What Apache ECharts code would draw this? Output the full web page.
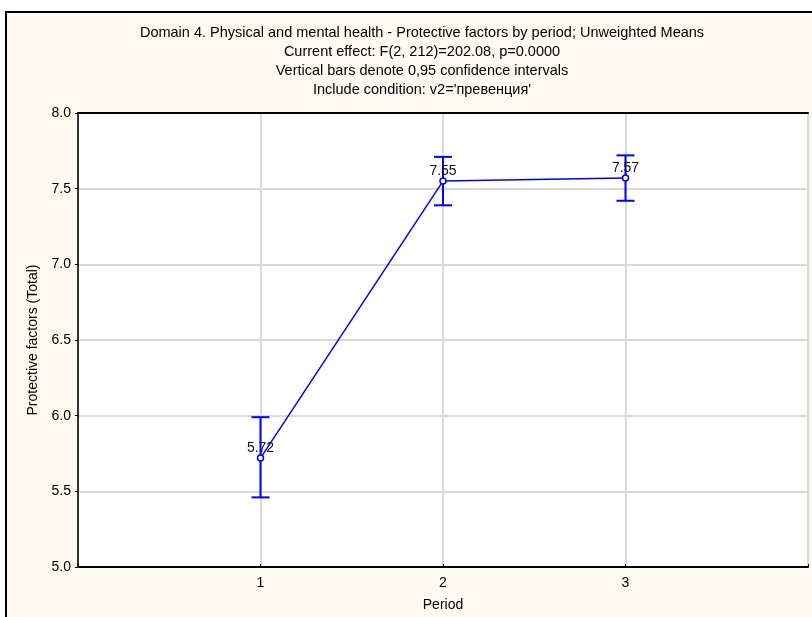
<!DOCTYPE html>
<html>
<head>
<meta charset="utf-8">
<script src="https://cdn.jsdelivr.net/npm/echarts@6/dist/echarts.min.js"></script>
<style>
html,body{margin:0;padding:0;background:#ffffff;}
#chart{width:812px;height:617px;}
</style>
</head>
<body>
<div id="chart"></div>
<script>
const titleLines = [
  "Domain 4. Physical and mental health - Protective factors by period; Unweighted Means",
  "Current effect: F(2, 212)=202.08, p=0.0000",
  "Vertical bars denote 0,95 confidence intervals",
  "Include condition: v2='превенция'"
];
const periods = [1, 2, 3];
const means = [5.72, 7.55, 7.57];
const ciLow = [5.46, 7.39, 7.42];
const ciHigh = [5.99, 7.71, 7.72];
const xTickLabels = ["1", "2", "3"];
const yAxisName = "Protective factors (Total)";
const xAxisName = "Period";

const FONT = "Liberation Sans, Arial, sans-serif";
const BLUE = "#0000ff";
const FS = 14;

const chart = echarts.init(document.getElementById('chart'), null, {renderer: 'canvas'});

const lineData = periods.map((p, i) => [p, means[i]]);
const errData = periods.map((p, i) => [p, ciLow[i], ciHigh[i]]);

chart.setOption({
  animation: false,
  backgroundColor: 'transparent',
  graphic: [{
    type: 'rect', z: -10, silent: true,
    shape: {x: 6, y: 12, width: 830, height: 640},
    style: {fill: '#fffaef', stroke: '#000', lineWidth: 2}
  }],
  title: {
    text: titleLines.join('\n'),
    left: 417, textAlign: 'center', top: 18,
    textStyle: {fontFamily: FONT, fontSize: 14.5, fontWeight: 'normal', color: '#000', lineHeight: 19}
  },
  grid: {
    left: 78, top: 113, right: 4, bottom: 50,
    show: true, backgroundColor: '#ffffff', borderWidth: 0
  },
  xAxis: [{
    type: 'value', min: 0, max: 4, interval: 1,
    name: xAxisName, nameLocation: 'middle', nameGap: 31,
    nameTextStyle: {fontFamily: FONT, fontSize: FS, color: '#000'},
    axisLine: {show: true, onZero: false, lineStyle: {color: '#000', width: 2}},
    axisTick: {show: true, inside: true, length: 3, lineStyle: {color: '#000'}},
    axisLabel: {
      fontFamily: FONT, fontSize: FS, color: '#000', margin: 9,
      formatter: v => { const i = periods.indexOf(v); return i >= 0 ? xTickLabels[i] : ''; }
    },
    splitLine: {show: true, lineStyle: {color: '#d9d9d9', width: 2}}
  }, {
    type: 'value', position: 'top', min: 0, max: 4,
    axisLine: {show: true, lineStyle: {color: '#000', width: 2}},
    axisTick: {show: false}, axisLabel: {show: false}, splitLine: {show: false}
  }],
  yAxis: [{
    type: 'value', min: 5.0, max: 8.0, interval: 0.5,
    name: yAxisName, nameLocation: 'middle', nameGap: 37,
    nameTextStyle: {fontFamily: FONT, fontSize: FS, color: '#000'},
    axisLine: {show: true, onZero: false, lineStyle: {color: '#000', width: 2}},
    axisTick: {show: true, length: 3, lineStyle: {color: '#000'}},
    axisLabel: {fontFamily: FONT, fontSize: FS, color: '#000', margin: 7, formatter: v => v.toFixed(1)},
    splitLine: {show: true, lineStyle: {color: '#d9d9d9', width: 2}}
  }, {
    type: 'value', position: 'right', min: 5.0, max: 8.0,
    axisLine: {show: true, lineStyle: {color: '#444', width: 1.5}},
    axisTick: {show: false}, axisLabel: {show: false}, splitLine: {show: false}
  }],
  series: [{
    type: 'custom',
    z: 3,
    renderItem: function (params, api) {
      const x = api.value(0);
      const lo = api.coord([x, api.value(1)]);
      const hi = api.coord([x, api.value(2)]);
      const hw = 9;
      const st = {stroke: BLUE, lineWidth: 2, fill: null};
      return {
        type: 'group',
        children: [
          {type: 'line', shape: {x1: lo[0], y1: lo[1], x2: hi[0], y2: hi[1]}, style: st},
          {type: 'line', shape: {x1: lo[0] - hw, y1: lo[1], x2: lo[0] + hw, y2: lo[1]}, style: st},
          {type: 'line', shape: {x1: hi[0] - hw, y1: hi[1], x2: hi[0] + hw, y2: hi[1]}, style: st}
        ]
      };
    },
    encode: {x: 0, y: [1, 2]},
    data: errData
  }, {
    type: 'line',
    z: 4,
    data: lineData,
    symbol: 'circle', symbolSize: 6,
    itemStyle: {color: '#ffffff', borderColor: BLUE, borderWidth: 1.5},
    lineStyle: {color: BLUE, width: 1.5},
    label: {
      show: true, position: 'top', distance: -1,
      fontFamily: FONT, fontSize: FS, color: '#111',
      formatter: p => p.value[1].toFixed(2)
    }
  }]
});
</script>
</body>
</html>
